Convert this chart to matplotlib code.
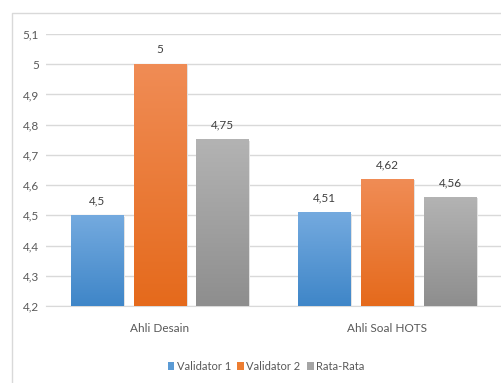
import numpy as np
import matplotlib
matplotlib.use("Agg")
from matplotlib import pyplot as plt
from matplotlib.colors import LinearSegmentedColormap
from matplotlib.patches import Rectangle

plt.rcParams['font.family'] = ['Lato', 'DejaVu Sans']

categories = ["Ahli Desain", "Ahli Soal HOTS"]
series = ["Validator 1", "Validator 2", "Rata-Rata"]
validator1 = [4.5, 4.51]
validator2 = [5.0, 4.62]
rata_rata = [4.75, 4.56]
label_text = [["4,5", "4,51"], ["5", "4,62"], ["4,75", "4,56"]]
yticks = [4.2, 4.3, 4.4, 4.5, 4.6, 4.7, 4.8, 4.9, 5.0, 5.1]
ytick_labels = ["4,2", "4,3", "4,4", "4,5", "4,6", "4,7", "4,8", "4,9", "5", "5,1"]

# top / bottom gradient colours per series
grad = [("#74aadf", "#3f86c8"), ("#f08c55", "#e56a1c"), ("#b3b3b3", "#8e8e8e")]
legend_colors = ["#5b9bd5", "#ed7d31", "#a5a5a5"]

fig = plt.figure(figsize=(5.02, 3.83), dpi=100)
# chart frame, only left and top edges fall inside the picture
fig.add_artist(plt.Line2D([12 / 502, 12 / 502, 1.0], [0, 1 - 13 / 383, 1 - 13 / 383],
                          transform=fig.transFigure, color="#d9d9d9", linewidth=1))
ax = fig.add_axes([46 / 502, 1 - 306 / 383, 455 / 502, 272 / 383])

x = np.arange(len(categories))
width = 0.23
step = 0.276
ymin, ymax = 4.2, 5.1
data = [validator1, validator2, rata_rata]

for i, vals in enumerate(data):
    cmap = LinearSegmentedColormap.from_list("g%d" % i, [grad[i][1], grad[i][0]])
    for j, v in enumerate(vals):
        x0 = x[j] + (i - 1) * step - width / 2
        # soft shadow
        ax.add_patch(Rectangle((x0 + 0.005, ymin), width + 0.002, v - ymin - 0.004,
                               facecolor="#e2e2e2", edgecolor="none", zorder=2))
        img = np.linspace(0, 1, 100).reshape(-1, 1)
        ax.imshow(img, extent=(x0, x0 + width, ymin, v), origin="lower",
                  aspect="auto", cmap=cmap, zorder=3)
        ax.text(x[j] + (i - 1) * step, v + 0.03, label_text[i][j],
                ha="center", va="bottom", fontsize=8.5, color="#404040")

ax.set_xlim(-0.5, 1.5)
ax.set_ylim(ymin, ymax)
ax.set_yticks(yticks)
ax.set_yticklabels(ytick_labels)
ax.set_xticks(x)
ax.set_xticklabels(categories)
ax.yaxis.grid(True, color="#d9d9d9", linewidth=1)
ax.set_axisbelow(True)
for s in ["top", "right", "left"]:
    ax.spines[s].set_visible(False)
ax.spines["bottom"].set_color("#d9d9d9")
ax.tick_params(axis="both", length=0, labelsize=8.5, colors="#595959")
ax.tick_params(axis="x", pad=12)
ax.tick_params(axis="y", pad=5)

handles = [Rectangle((0, 0), 1, 1, facecolor=c) for c in legend_colors]
fig.legend(handles, series, loc="center", bbox_to_anchor=(0.53, 1 - 366 / 383),
           ncol=3, frameon=False, fontsize=8, handlelength=0.6, handleheight=0.7,
           handletextpad=0.2, columnspacing=0.6, labelcolor="#595959")

fig.savefig("out.png", dpi=100)
